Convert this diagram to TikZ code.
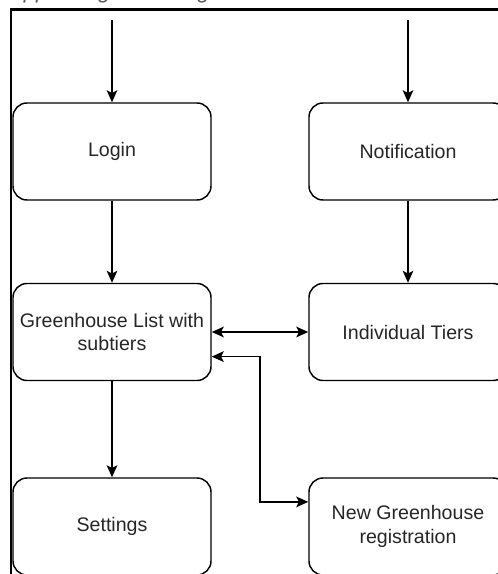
\documentclass[tikz,border=0pt]{standalone}
\usepackage{fontspec}
\setmainfont{Liberation Sans}
\usetikzlibrary{arrows.meta,calc}
\begin{document}
\begin{tikzpicture}[x=0.75pt,y=-0.75pt,
  screen/.style={draw=black, line width=1.1pt, rounded corners=10.5pt,
    minimum width=148.5pt, minimum height=72.75pt, align=center,
    inner sep=0pt, font=\fontsize{14.7}{17.6}\selectfont, text=black!85},
  tip/.style={Stealth[length=9pt,width=8pt,inset=2pt]},
  flow/.style={line width=1.1pt, -{Stealth[length=9pt,width=8pt,inset=2pt]}},
  twoway/.style={line width=1.1pt, {Stealth[length=9pt,width=8pt,inset=2pt]}-{Stealth[length=9pt,width=8pt,inset=2pt]}},
]
\useasboundingbox (0,0) rectangle (498,574);

% heading, mostly above the page edge
\node[anchor=base west, inner sep=0pt, font=\itshape\fontsize{16.5}{20}\selectfont, text=black!65] (title) at (9,-1) {App Navigation Diagram};

% frame
\draw[line width=1.7pt] (11,574) -- (11,9.5) -- (498,9.5);

% screens
\node[screen] (login)    at (112,151.5) {Login};
\node[screen] (notif)    at (408,151.5) {Notification};
\node[screen] (ghlist)   at (112,332)   {Greenhouse List with\\subtiers};
\node[screen] (tiers)    at (408,332)   {Individual Tiers};
\node[screen] (settings) at (112,526.5) {Settings};
\node[screen] (newgh)    at (408,526.5) {New Greenhouse\\registration};

% entry points
\coordinate (entryL) at (112,20);
\coordinate (entryR) at (408,20);
\draw[flow] (entryL) -- (login);
\draw[flow] (entryR) -- (notif);

% navigation
\draw[flow] (login) -- (ghlist);
\draw[flow] (notif) -- (tiers);
\draw[flow] (ghlist) -- (settings);
\draw[twoway] (ghlist.east) -- (tiers.west);

\coordinate (ghIn) at ($(ghlist.north east)!0.75!(ghlist.south east)$);
\coordinate (ngIn) at ($(newgh.north west)!0.25!(newgh.south west)$);
\coordinate (elbow) at ($(ghIn)!0.5!(ngIn)$);
\draw[twoway] (ghIn) -| (elbow) |- (ngIn);
\end{tikzpicture}
\end{document}
